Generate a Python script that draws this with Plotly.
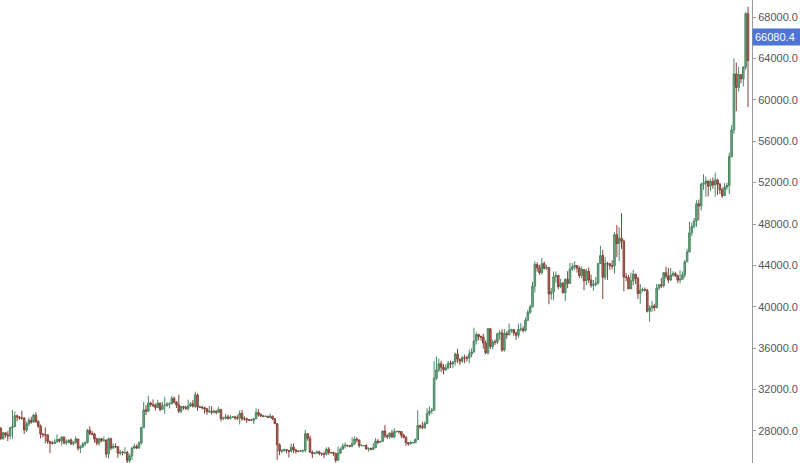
import plotly.graph_objects as go
import pandas as pd

# Daily BTC/USDT candles, 2023-04-21 .. 2024-03-05
first_open = 28250

close = [
    # Apr
    27270, 27820, 27590, 27520, 28310, 28420, 29470, 29340, 29250, 29230,
    # May
    28090, 28680, 29030, 28850, 29530, 28900, 28450, 27690, 27650, 27620, 26990, 26800, 26780, 26930, 27170, 27030,
    27400, 26830, 26890, 27120, 26750, 26850, 27220, 26330, 26470, 26720, 26870, 28080, 27750, 27700, 27220,
    # Jun
    26820, 27250, 27070, 27120, 25760, 27240, 26350, 26500, 26480, 25850, 25940, 25900, 25920, 25120, 25580, 26330,
    26510, 26340, 26850, 28330, 30030, 29910, 30700, 30550, 30480, 30270, 30700, 30080, 30450, 30480,
    # Jul
    30590, 30620, 31160, 30770, 30510, 29900, 30350, 30290, 30170, 30410, 30620, 30390, 31480, 30320, 30290, 30250,
    30140, 29860, 29910, 29800, 29910, 29790, 30080, 29180, 29230, 29350, 29220, 29320, 29360, 29280, 29230,
    # Aug
    29700, 29180, 29170, 29080, 29040, 29040, 29180, 29770, 29580, 29440, 29400, 29420, 29300, 29430, 29170, 28700,
    26660, 26050, 26100, 26190, 26120, 26040, 26430, 26160, 26050, 26010, 26090, 26110, 27730, 27300, 25940,
    # Sep
    25800, 25870, 25970, 25820, 25780, 25750, 26240, 25910, 25900, 25840, 25160, 25840, 26230, 26540, 26610, 26570,
    26530, 26760, 27210, 27130, 26570, 26580, 26580, 26250, 26300, 26220, 26370, 27020, 26910, 26970,
    # Oct
    27990, 27530, 27430, 27790, 27410, 27930, 27960, 27940, 27590, 27390, 26870, 26750, 26860, 26860, 27160, 28520,
    28420, 28330, 28720, 29680, 29920, 29990, 33090, 33900, 34500, 34160, 33910, 34090, 34540, 34480, 34670,
    # Nov
    35440, 34940, 34730, 35080, 35050, 35050, 35420, 35620, 36700, 37310, 37130, 37070, 36500, 35550, 37880, 36160,
    36600, 36580, 37380, 37470, 35810, 37420, 37290, 37720, 37800, 37480, 37250, 37830, 37860, 37710,
    # Dec
    38690, 39470, 39980, 41990, 44080, 43770, 43290, 44170, 43720, 43790, 41240, 41450, 42890, 43020, 41940, 42280,
    41360, 42660, 42260, 43650, 43870, 43990, 43740, 43020, 43610, 42520, 43440, 42590, 42070, 42140, 42280,
    # Jan
    44180, 44950, 42850, 44180, 44160, 43970, 43930, 46970, 46110, 46630, 46340, 42890, 42840, 41730, 42510, 43150,
    42740, 41280, 41620, 41660, 41580, 39570, 39890, 40080, 39930, 41820, 42120, 42030, 43300, 42950, 42580,
    # Feb
    43080, 43200, 43010, 42580, 42660, 43090, 44340, 45300, 47150, 47770, 48290, 49960, 49740, 51830, 51940, 52160,
    51660, 52120, 51780, 52260, 51840, 51300, 50730, 51570, 51730, 54520, 57090, 62500, 61200,
    # Mar
    62440, 62030, 63170, 68330, 63800,
]

high = [
    28370, 27880, 27820, 27980, 28400, 30020, 29880, 29570, 29420, 29960,
    29330, 28870, 29260, 29370, 29670, 29820, 29040, 28630, 27810, 28330, 27630, 27050, 27030, 27200, 27660, 27270,
    27480, 27460, 27170, 27150, 27270, 27030, 27480, 27220, 26600, 26920, 26980, 28200, 28450, 28000, 27830,
    27350, 27300, 27330, 27450, 27130, 27360, 27360, 26800, 26800, 26530, 26170, 26080, 26430, 26080, 25750, 26480,
    26770, 26680, 26990, 28390, 30800, 30500, 31400, 30810, 31050, 30650, 31000, 30700, 30820, 31280,
    30790, 30770, 31380, 31320, 30880, 31500, 30440, 30380, 30440, 31030, 30800, 30980, 31800, 31630, 30380, 30440,
    30330, 30230, 30410, 30400, 30050, 29990, 30330, 30100, 29380, 29670, 29570, 29530, 29410, 29450, 29520,
    29990, 30030, 29410, 29310, 29110, 29170, 29230, 30180, 30100, 29710, 29560, 29470, 29450, 29670, 29470, 29220,
    28770, 26800, 26260, 26300, 26250, 26130, 26790, 26800, 26270, 26120, 26160, 26210, 28130, 27750, 27540,
    26120, 25990, 26120, 26090, 25900, 26000, 26420, 26430, 25930, 26000, 25880, 26500, 26400, 26800, 26900, 26660,
    26630, 27400, 27470, 27380, 27150, 26720, 26640, 26720, 26410, 26400, 26820, 27300, 27210, 27070,
    28040, 28580, 27670, 27850, 28100, 28250, 28030, 28000, 27990, 27720, 27480, 26940, 27050, 26960, 27290, 30000,
    28610, 28900, 28920, 30210, 30350, 30220, 34750, 35200, 35000, 34800, 34470, 34430, 34760, 34800, 34700,
    35570, 35950, 34920, 35250, 35370, 35280, 35850, 35980, 37970, 37530, 37390, 37220, 37400, 36750, 37970, 37950,
    36820, 36850, 37520, 37750, 37840, 37840, 37630, 38400, 37880, 37830, 37580, 38370, 38420, 38120,
    38960, 39710, 40200, 42420, 44400, 44290, 44040, 44700, 44370, 44040, 43790, 41800, 43400, 43420, 43090, 42700,
    42400, 42730, 43450, 44250, 44230, 44400, 43990, 43920, 43900, 43600, 43680, 43800, 43120, 42590, 42880,
    44190, 45900, 45500, 44780, 44350, 44240, 44500, 47200, 47900, 47700, 49050, 46500, 43250, 43080, 43300, 43570,
    43200, 42880, 42200, 41850, 41870, 41730, 40140, 40550, 40290, 42200, 42200, 42800, 43350, 43880, 43750,
    43740, 43420, 43380, 43120, 43530, 43410, 44520, 45600, 48200, 48150, 48580, 50300, 50350, 52000, 52820, 52570,
    52180, 52360, 52500, 52950, 52380, 52000, 51500, 51950, 52000, 54900, 57550, 64000, 63600,
    63200, 62450, 63250, 68500, 69000,
]

low = [
    27130, 27130, 27350, 27020, 27210, 27250, 28380, 28930, 29090, 29100,
    27700, 27890, 28440, 28700, 28810, 28780, 28310, 27280, 27380, 26800, 26750, 25860, 26700, 26760, 26880, 26860,
    26600, 26700, 26640, 26850, 26630, 26570, 26820, 26100, 25870, 26350, 26560, 26800, 27570, 27560, 26880,
    26600, 26570, 26920, 26960, 25420, 25350, 26130, 26250, 26340, 25400, 25650, 25640, 25750, 24830, 24790, 25170,
    26320, 26250, 26290, 26660, 28270, 29530, 29820, 30320, 30300, 29960, 30210, 29880, 30050, 29650,
    30320, 30160, 30600, 30660, 30220, 29720, 29720, 30050, 30030, 29960, 30320, 30260, 30220, 29940, 30250, 30070,
    29670, 29560, 29740, 29590, 29690, 29600, 29740, 28920, 29040, 29100, 29080, 29130, 29250, 29050, 29060,
    28630, 28970, 28980, 28770, 28970, 28950, 28650, 29120, 29380, 29320, 29350, 29380, 29260, 29270, 29060, 28690,
    25200, 25650, 25830, 25980, 25830, 25430, 25920, 25860, 25800, 25950, 25990, 25900, 25910, 27050, 25930,
    25370, 25760, 25800, 25640, 25580, 25380, 25630, 25670, 25810, 25580, 24920, 25130, 25780, 26220, 26300, 26480,
    26400, 26410, 26640, 26900, 26380, 26540, 26510, 26200, 26000, 26120, 26130, 26330, 26730, 26880,
    26960, 27300, 27240, 27220, 27350, 27250, 27850, 27690, 27310, 27290, 26560, 26560, 26680, 26820, 26820, 27110,
    28180, 28170, 28190, 28640, 29480, 29670, 30000, 32900, 33700, 33700, 33470, 33800, 33970, 34080, 34060,
    34330, 34560, 34370, 34580, 34550, 34710, 34540, 35120, 35580, 36340, 36770, 36720, 35950, 35400, 35380, 35920,
    35900, 36300, 36400, 36800, 35650, 35660, 36900, 37250, 37480, 37200, 36800, 37000, 37600, 37500,
    37600, 38650, 39280, 39960, 41380, 43390, 43080, 43110, 43600, 43570, 40240, 40680, 40640, 42320, 41700, 41800,
    41290, 40550, 41800, 42200, 43450, 43560, 43300, 42770, 42760, 41600, 42100, 42300, 41850, 41550, 41980,
    42150, 44160, 40750, 42600, 42600, 43570, 43620, 43200, 44800, 44400, 45600, 41500, 42460, 41720, 41710, 42050,
    42200, 40750, 40300, 41440, 41500, 39450, 38550, 39500, 39600, 39830, 41600, 41800, 41850, 42700, 42300,
    42520, 42880, 42880, 42270, 42260, 42580, 42800, 44340, 45250, 46850, 47580, 47730, 48350, 49300, 51300, 50650,
    50650, 51200, 51400, 50650, 50800, 50900, 50530, 50700, 51300, 50900, 54450, 56700, 58900,
    60800, 61600, 61300, 62900, 59300,
]

last_price = 66080.4
tick_values = [28000, 32000, 36000, 40000, 44000, 48000, 52000, 56000, 60000, 64000, 68000]
tick_labels = [f"{v:.1f}" for v in tick_values]

dates = pd.date_range("2023-04-21", periods=len(close), freq="D")
opens = [first_open] + close[:-1]

fig = go.Figure()

fig.add_trace(go.Candlestick(
    x=dates,
    open=opens,
    high=high,
    low=low,
    close=close,
    increasing=dict(line=dict(color="#4b8763", width=1), fillcolor="#6aab86"),
    decreasing=dict(line=dict(color="#844238", width=1), fillcolor="#bd6655"),
    whiskerwidth=0,
    showlegend=False,
))

# current price tag on the axis
fig.add_annotation(
    xref="paper", x=1, yref="y", y=last_price,
    text=f"{last_price:.1f}",
    showarrow=False,
    xanchor="left",
    xshift=0,
    width=44,
    align="left",
    bgcolor="#4d74d6",
    borderpad=2,
    font=dict(color="white", size=11, family="Arial, Liberation Sans"),
)

fig.update_layout(
    width=800,
    height=463,
    plot_bgcolor="white",
    paper_bgcolor="white",
    margin=dict(l=0, r=48, t=0, b=0),
    boxgap=0.05,
    xaxis=dict(
        visible=False,
        rangeslider=dict(visible=False),
        range=["2023-04-20 16:00", "2024-03-06 17:00"],
    ),
    yaxis=dict(
        side="right",
        range=[24900, 69650],
        tickvals=tick_values,
        ticktext=tick_labels,
        showgrid=False,
        zeroline=False,
        showline=True,
        linecolor="#9a9a9a",
        linewidth=1,
        ticks="outside",
        ticklen=3,
        tickcolor="#9a9a9a",
        tickfont=dict(color="#555555", size=11, family="Arial, Liberation Sans"),
    ),
)

# drop the default page margin so the 800x463 figure fills the window
fig.write_html(
    "out.html",
    config={"displayModeBar": False},
    post_script="document.body.style.margin='0';",
)
